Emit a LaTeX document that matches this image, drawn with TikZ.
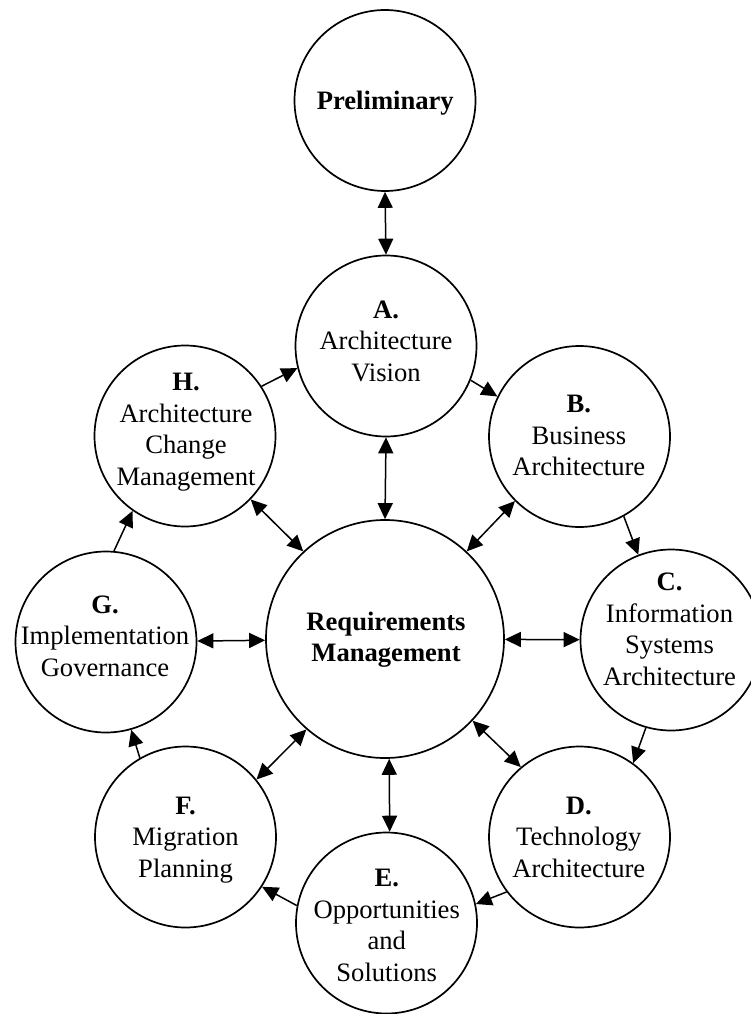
\documentclass[tikz,border=0pt]{standalone}
\usepackage{fontspec}
\setmainfont{Liberation Serif}
\usetikzlibrary{arrows.meta}

% one phase label: bold letter on top, name lines below
\newcommand\phaselabel[2]{\begin{tabular}[t]{@{}c@{}}\textbf{#1}\\#2\end{tabular}}

\begin{document}
\begin{tikzpicture}[x=1pt,y=-1pt,
  phase/.style={circle, draw, line width=1.7pt, inner sep=0pt, minimum size=181pt},
  hub/.style={circle, draw, line width=1.7pt, inner sep=0pt, minimum size=238pt},
  caption/.style={anchor=base, inner sep=0pt,
    font=\fontsize{26.6}{31.5}\selectfont},
  tip/.style={Triangle[length=16pt,width=15pt]},
  flow/.style={line width=1.5pt, -{Triangle[length=16pt,width=15pt]}},
  link/.style={line width=1.5pt, {Triangle[length=16pt,width=15pt]}-{Triangle[length=16pt,width=15pt]}}
]
\clip (0,0) rectangle (751,1014);
\fill[white] (0,0) rectangle (751,1014);

% circles
\node[phase] (P) at (385,100.5) {};
\node[phase] (A) at (386,346) {};
\node[phase] (B) at (579.5,436.5) {};
\node[phase] (C) at (671,640) {};
\node[phase] (D) at (579.5,837) {};
\node[phase] (E) at (386.5,923) {};
\node[phase] (F) at (185.5,837) {};
\node[phase] (G) at (106,642) {};
\node[phase] (H) at (185,436) {};
\node[hub]   (R) at (385,639) {};

% texts
\node[caption] (Pt) at (385.3,110) {\textbf{Preliminary}};
\node[caption] (At) at (386,318.3) {\phaselabel{A.}{Architecture\\Vision}};
\node[caption] (Bt) at (578.8,412.7) {\phaselabel{B.}{Business\\Architecture}};
\node[caption] (Ct) at (669.5,590.7) {\phaselabel{C.}{Information\\Systems\\Architecture}};
\node[caption] (Dt) at (578.8,814.3) {\phaselabel{D.}{Technology\\Architecture}};
\node[caption] (Et) at (386.7,886.7) {\phaselabel{E.}{Opportunities\\and\\Solutions}};
\node[caption] (Ft) at (185.5,814.3) {\phaselabel{F.}{Migration\\Planning}};
\node[caption] (Gt) at (105,613.3) {\phaselabel{G.}{Implementation\\Governance}};
\node[caption] (Ht) at (186,390.7) {\phaselabel{H.}{Architecture\\Change\\Management}};
\node[caption] (Rt) at (386,630) {\begin{tabular}[t]{@{}c@{}}\textbf{Requirements}\\\textbf{Management}\end{tabular}};

% cycle A -> H
\draw[flow] (H.33.6) -- (A.194);
\draw[flow] (A.-22.6) -- (B.154.2);
\draw[flow] (B.-61.4) -- (C.111.4);
\draw[flow] (C.254.2) -- (D.54.5);
\draw[flow] (D.217) -- (E.12.3);
\draw[flow] (E.169.3) -- (F.-33.7);
\draw[flow] (F.120) -- (G.-74.9);
\draw[flow] (G.85.8) -- (H.235.7);

% exchanges with the preliminary phase and requirements management
\draw[link] (P.south) -- (A.north);
\draw[link] (A.south) -- (R.north);
\draw[link] (H.-44.6) -- (R.133.8);
\draw[link] (B.225.3) -- (R.47.5);
\draw[link] (G) -- (R);
\draw[link] (R) -- (C);
\draw[link] (F.39) -- (R.229.2);
\draw[link] (R.-43.3) -- (D.130.9);
\draw[link] (R.-88) -- (E.88);
\end{tikzpicture}
\end{document}
